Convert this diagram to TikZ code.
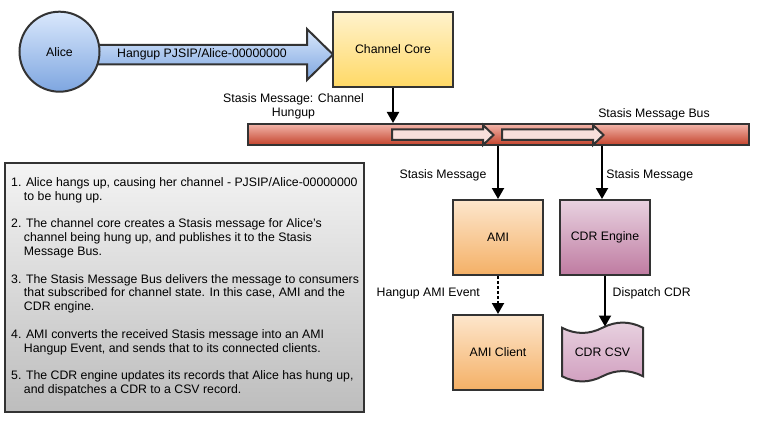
\documentclass[tikz,border=0pt]{standalone}
\usepackage{fontspec}
\setmainfont{Liberation Sans}
\usetikzlibrary{arrows.meta}
\definecolor{edge}{HTML}{333333}
\definecolor{blueT}{HTML}{DAE8FC}
\definecolor{blueB}{HTML}{7EA6E0}
\definecolor{yelT}{HTML}{FFF2CC}
\definecolor{yelB}{HTML}{FFD966}
\definecolor{redT}{HTML}{F2B5AA}
\definecolor{redB}{HTML}{C4432C}
\definecolor{pinkFill}{HTML}{F8DEDB}
\definecolor{oraT}{HTML}{FDE6CC}
\definecolor{oraB}{HTML}{F4B066}
\definecolor{purT}{HTML}{E8D2E0}
\definecolor{purB}{HTML}{BF7BA1}
\definecolor{csvB}{HTML}{D19FBF}
\definecolor{grayT}{HTML}{F4F4F4}
\definecolor{grayB}{HTML}{BDBDBD}
\begin{document}
\begin{tikzpicture}[x=1pt,y=-1pt,
  font=\fontsize{12.3}{14}\selectfont,
  box/.style={draw=edge, line width=2pt, rectangle, inner sep=0pt},
  conn/.style={line width=2pt, -{Triangle[length=11pt,width=12pt]}},
  lbl/.style={inner sep=0pt, text height=8.7pt, text depth=2.5pt},
]
\useasboundingbox (0,0) rectangle (768,433);

% big arrow Alice -> Channel Core
\draw[draw=edge, line width=2pt, top color=blueT, bottom color=blueB]
  (90,45) -- (307,45) -- (307,29) -- (333,54.5) -- (307,80) -- (307,64.3) -- (90,64.3) -- cycle;
\node[lbl] (hangup) at (202,54.5) {Hangup PJSIP/Alice-00000000};

% Alice
\node[circle, draw=edge, line width=2pt, minimum size=80pt, inner sep=0pt,
      top color=blueT, bottom color=blueB] (alice) at (59.5,51.7) {Alice};

% Channel Core
\node[box, minimum width=120pt, minimum height=75pt, top color=yelT, bottom color=yelB]
  (core) at (393,49.5) {Channel Core};

% Bus
\node[box, minimum width=501pt, minimum height=21pt, top color=redT, bottom color=redB]
  (bus) at (498.5,134.5) {};
\draw[draw=edge, line width=2pt, fill=pinkFill]
  (392,129.5) -- (483,129.5) -- (483,125) -- (493.5,135) -- (483,145) -- (483,140) -- (392,140) -- cycle;
\draw[draw=edge, line width=2pt, fill=pinkFill]
  (502,129.5) -- (593,129.5) -- (593,125) -- (603.5,135) -- (593,145) -- (593,140) -- (502,140) -- cycle;
\node[lbl] (buslbl) at (654,114) {Stasis Message Bus};

% Channel core -> bus
\draw[conn] (core.south) -- (core.south |- bus.north);
\node[inner sep=0pt, align=center, font=\fontsize{12.3}{14}\selectfont] (chlbl) at (293.5,106.5) {Stasis Message: Channel\\Hungup};

% AMI, CDR Engine
\node[box, minimum width=90pt, minimum height=75pt, top color=oraT, bottom color=oraB]
  (ami) at (498,237.5) {AMI};
\node[box, minimum width=90pt, minimum height=75pt, top color=purT, bottom color=purB]
  (cdr) at (605,237.5) {CDR Engine};
\node[box, minimum width=90pt, minimum height=75pt, top color=oraT, bottom color=oraB]
  (client) at (498,352.5) {AMI Client};

\draw[conn] (ami.north |- bus.south) -- (ami.north);
\draw[conn] ([xshift=-3pt]cdr.north |- bus.south) -- ([xshift=-3pt]cdr.north);
\node[lbl] (sm1) at (443,175) {Stasis Message};
\node[lbl] (sm2) at (649.7,175) {Stasis Message};

% AMI -> client dashed
\draw[conn, dash pattern=on 3pt off 2pt] (ami.south) -- (client.north);
\node[lbl] (amiev) at (428.3,293) {Hangup AMI Event};

% CDR CSV tape
\draw[draw=edge, line width=2pt, top color=purT, bottom color=csvB]
  (562,327.75) .. controls (575.5,334.65) and (589,334.65) .. (602.5,327.75)
  .. controls (616,320.85) and (629.5,320.85) .. (643,327.75)
  -- (643,376.25)
  .. controls (629.5,369.35) and (616,369.35) .. (602.5,376.25)
  .. controls (589,383.15) and (575.5,383.15) .. (562,376.25) -- cycle;
\node[inner sep=0pt, minimum width=81pt, minimum height=60pt] (csv) at (602.5,352) {CDR CSV};
\coordinate (csvtop) at (605,326.5);
\draw[conn] (cdr.south) -- (csvtop);
\node[lbl] (disp) at (651.7,293) {Dispatch CDR};

% explanation box
\node[box, minimum width=359pt, minimum height=249pt, top color=grayT, bottom color=grayB]
  (notes) at (184.5,287.5) {};
\node[anchor=north west, inner sep=0pt, align=left, font=\fontsize{12.3}{13.8}\selectfont]
  (steps) at (11,177.3) {%
1. Alice hangs up, causing her channel - PJSIP/Alice-00000000\\
\hspace*{12.8pt}to be hung up.\\[13.8pt]
2. The channel core creates a Stasis message for Alice's\\
\hspace*{12.8pt}channel being hung up, and publishes it to the Stasis\\
\hspace*{12.8pt}Message Bus.\\[13.8pt]
3. The Stasis Message Bus delivers the message to consumers\\
\hspace*{12.8pt}that subscribed for channel state. In this case, AMI and the\\
\hspace*{12.8pt}CDR engine.\\[13.8pt]
4. AMI converts the received Stasis message into an AMI\\
\hspace*{12.8pt}Hangup Event, and sends that to its connected clients.\\[13.8pt]
5. The CDR engine updates its records that Alice has hung up,\\
\hspace*{12.8pt}and dispatches a CDR to a CSV record.};
\end{tikzpicture}
\end{document}
